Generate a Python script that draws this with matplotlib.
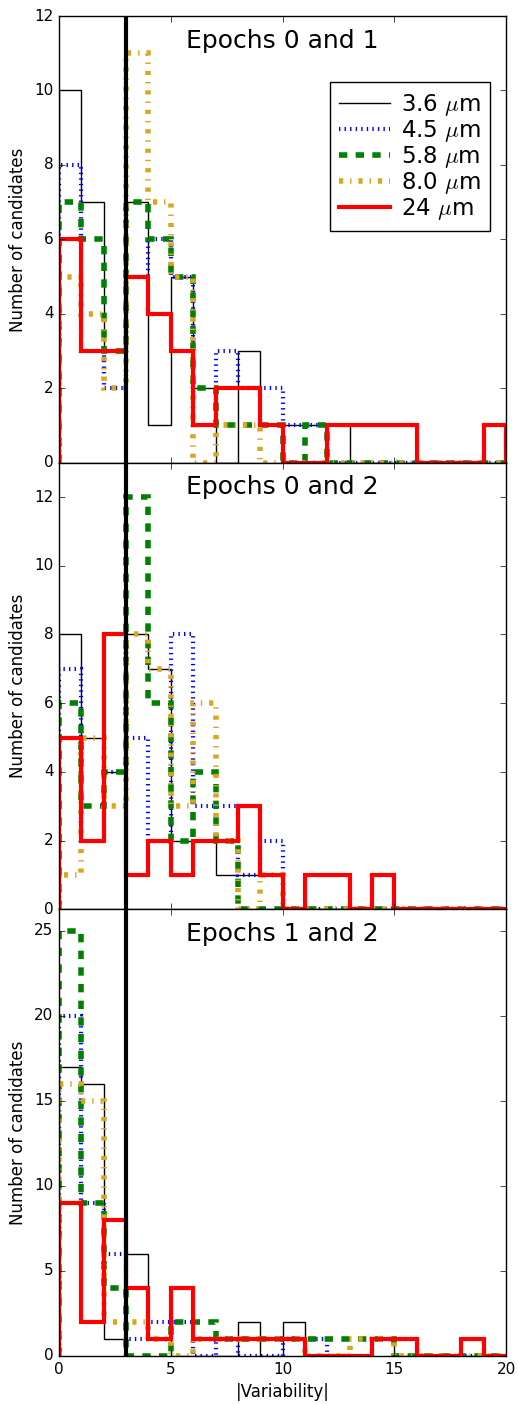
import matplotlib
matplotlib.use("Agg")
import matplotlib.pyplot as plt
import numpy as np

plt.style.use("classic")
plt.rcParams["figure.facecolor"] = "white"
plt.rcParams["savefig.facecolor"] = "white"

# bins of |variability|, width 1 from 0 to 20
edges = np.arange(0, 21)

labels = [r"3.6 $\mu$m", r"4.5 $\mu$m", r"5.8 $\mu$m", r"8.0 $\mu$m", r"24 $\mu$m"]
titles = ["Epochs 0 and 1", "Epochs 0 and 2", "Epochs 1 and 2"]

# epochs 0 and 1
e01_36 = [10, 7, 3, 7, 1, 5, 2, 0, 3, 1, 1, 1, 1, 0, 0, 0, 0, 0, 0, 0]
e01_45 = [8, 3, 2, 5, 6, 5, 1, 3, 2, 2, 1, 1, 0, 0, 0, 0, 0, 0, 0, 0]
e01_58 = [7, 6, 3, 7, 6, 5, 2, 1, 1, 1, 0, 1, 0, 0, 0, 0, 0, 0, 0, 0]
e01_80 = [5, 4, 2, 11, 7, 5, 0, 1, 1, 0, 0, 0, 0, 0, 0, 0, 0, 0, 0, 0]
e01_24 = [6, 3, 3, 5, 4, 3, 1, 2, 2, 1, 0, 0, 1, 1, 1, 1, 0, 0, 0, 1]

# epochs 0 and 2
e02_36 = [8, 5, 4, 8, 7, 2, 2, 1, 1, 1, 0, 0, 0, 0, 0, 0, 0, 0, 0, 0]
e02_45 = [7, 2, 4, 5, 2, 8, 3, 3, 1, 2, 0, 0, 0, 0, 0, 0, 0, 0, 0, 0]
e02_58 = [6, 3, 4, 12, 6, 2, 4, 2, 0, 0, 0, 0, 0, 0, 0, 0, 0, 0, 0, 0]
e02_80 = [1, 5, 3, 8, 7, 3, 6, 2, 0, 1, 0, 0, 0, 0, 0, 0, 0, 0, 0, 0]
e02_24 = [5, 2, 8, 1, 2, 1, 2, 2, 3, 1, 0, 1, 1, 0, 1, 0, 0, 0, 0, 0]

# epochs 1 and 2
e12_36 = [17, 16, 1, 6, 1, 0, 0, 0, 2, 0, 2, 0, 0, 0, 1, 0, 0, 0, 0, 0]
e12_45 = [20, 9, 6, 1, 2, 2, 0, 1, 0, 0, 1, 1, 0, 0, 1, 1, 0, 0, 0, 0]
e12_58 = [25, 9, 4, 0, 0, 2, 2, 1, 1, 1, 1, 1, 1, 1, 1, 0, 0, 0, 0, 0]
e12_80 = [16, 15, 2, 2, 1, 0, 1, 1, 1, 1, 1, 0, 0, 1, 1, 0, 0, 0, 0, 0]
e12_24 = [9, 2, 8, 4, 1, 4, 1, 1, 1, 1, 1, 0, 0, 0, 1, 1, 0, 0, 1, 0]

panels = [
    [e01_36, e01_45, e01_58, e01_80, e01_24],
    [e02_36, e02_45, e02_58, e02_80, e02_24],
    [e12_36, e12_45, e12_58, e12_80, e12_24],
]
ylims = [12, 13, 26.25]
yticks = [np.arange(0, 13, 2), np.arange(0, 13, 2), np.arange(0, 26, 5)]

styles = [
    dict(color="k", ls="-", lw=1),
    dict(color="b", ls=":", lw=3),
    dict(color="g", ls="--", lw=4),
    dict(color="#DAA520", ls="-.", lw=4),
    dict(color="r", ls="-", lw=3),
]

fig, axes = plt.subplots(3, 1, sharex=True, figsize=(5.18, 14.04), dpi=100)
fig.subplots_adjust(left=0.114, right=0.977, top=0.9886, bottom=0.0342, hspace=0)

for ax, counts, title, ymax, yt in zip(axes, panels, titles, ylims, yticks):
    for c, st, lab in zip(counts, styles, labels):
        ax.stairs(c, edges, baseline=0, label=lab, **st)
    ax.axvline(3, color="k", lw=3)
    ax.set_xlim(0, 20)
    ax.set_ylim(0, ymax)
    ax.set_yticks(yt)
    ax.set_ylabel("Number of candidates", fontsize=12)
    ax.text(0.5, 0.972, title, transform=ax.transAxes, ha="center", va="top", fontsize=18)
    ax.tick_params(labelsize=11)

axes[0].legend(loc="upper right", bbox_to_anchor=(0.99, 0.877), fontsize=16.5,
               labelspacing=0.0, handlelength=2.2, borderpad=0.4, handletextpad=0.5)
axes[2].set_xticks(np.arange(0, 21, 5))
axes[2].set_xlabel("|Variability|", fontsize=12)

fig.savefig("out.png", dpi=100)
